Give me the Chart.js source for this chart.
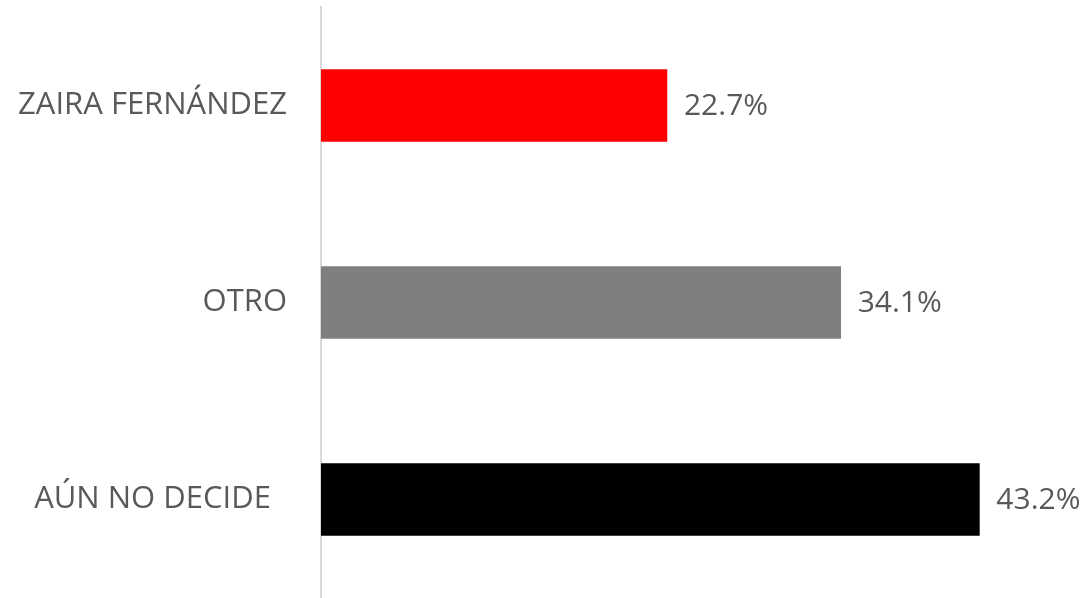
<!DOCTYPE html>
<html>
<head>
<meta charset="utf-8">
<script src="https://cdn.jsdelivr.net/npm/chart.js@4"></script>
<style>
  html, body { margin: 0; padding: 0; background: #fff; overflow: hidden; }
</style>
</head>
<body>
<canvas id="myChart" width="1087" height="598"></canvas>
<script>
var categories = ['ZAIRA FERNÁNDEZ', 'OTRO', 'AÚN NO DECIDE  '];
var values = [22.7, 34.1, 43.2];
var colors = ['#ff0000', '#7f7f7f', '#000000'];

var FONT = '"Open Sans", sans-serif';

// value labels at the end of each bar
var barLabels = {
	id: 'barLabels',
	afterDatasetsDraw: function(chart){
		var ctx = chart.ctx;
		var meta = chart.getDatasetMeta(0);
		ctx.save();
		ctx.font = '30px ' + FONT;
		ctx.fillStyle = '#595959';
		ctx.textBaseline = 'middle';
		ctx.textAlign = 'left';
		meta.data.forEach(function(bar, i){
			ctx.fillText(values[i].toFixed(1) + '%', bar.x + 17, bar.y + 1);
		});
		ctx.restore();
	}
};

var ctx = document.getElementById('myChart').getContext('2d');
var chart = new Chart(ctx, {
	type: 'bar',
	data: {
		labels: categories,
		datasets: [{
			data: values,
			backgroundColor: colors,
			barThickness: 72
		}]
	},
	options: {
		indexAxis: 'y',
		responsive: false,
		animation: false,
		layout: { padding: { top: 7, bottom: 0, right: 4, left: 0 } },
		plugins: { legend: { display: false }, tooltip: { enabled: false } },
		scales: {
			x: { display: false, min: 0, max: 50 },
			y: {
				afterFit: function(scale){
					scale.width = 321;
					scale.paddingTop = 0;
					scale.paddingBottom = 0;
				},
				grid: { display: false },
				border: { display: true, color: '#d9d9d9', width: 2 },
				ticks: { color: '#595959', font: { family: FONT, size: 31 }, padding: 26 }
			}
		}
	},
	plugins: [barLabels]
});
</script>
</body>
</html>
